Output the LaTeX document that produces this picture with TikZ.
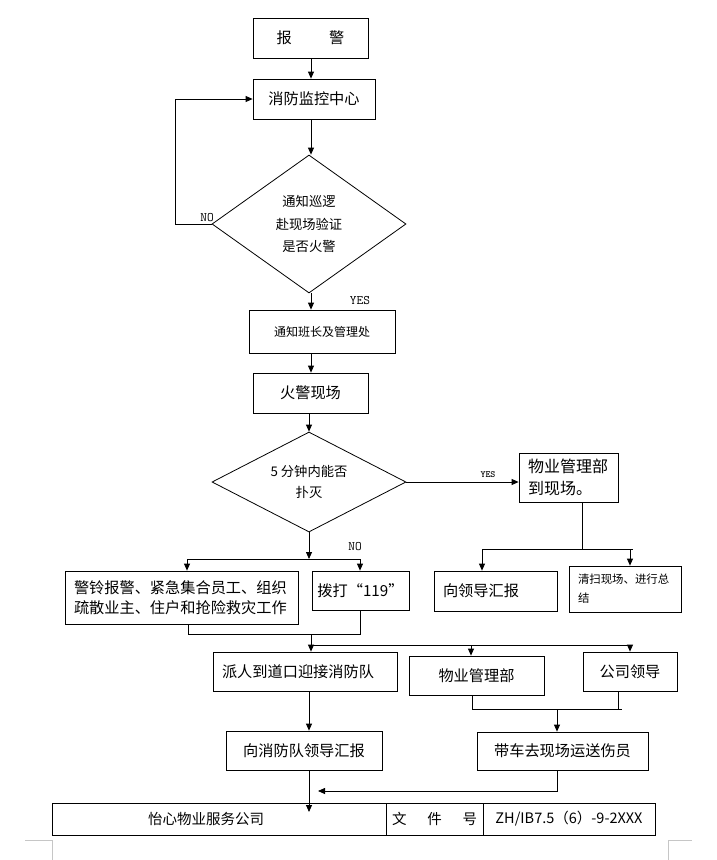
\documentclass[tikz,border=0pt]{standalone}
\usepackage{fontspec}
\setmainfont{Noto Sans CJK SC}
\usetikzlibrary{arrows.meta,shapes.geometric}
\begin{document}
\begin{tikzpicture}[x=1pt,y=-1pt,
  line width=0.8pt,
  box/.style={draw, rectangle, inner sep=0pt, align=center},
  lbox/.style={draw, rectangle, inner xsep=9pt, inner ysep=0pt, align=left},
  dia/.style={draw, diamond, inner sep=0pt, align=center},
  arr/.style={-{Triangle[length=7pt,width=6pt]}},
  fA/.style={font=\fontsize{15.2}{20}\selectfont},
  lab/.style={font=\ttfamily\fontsize{13}{13}\selectfont, inner sep=0pt},
  labs/.style={font=\ttfamily\bfseries\fontsize{9.5}{9.5}\selectfont, inner sep=0pt},
  tb/.style={draw, rectangle, inner sep=0pt, align=center, minimum height=32pt, font=\fontsize{14.5}{16}\selectfont},
  cornermark/.style={draw=gray!45, line width=0.6pt}
]
\useasboundingbox (0,0) rectangle (717,860);
\fill[white] (0,0) rectangle (717,860);

% axes
\coordinate (ax) at (311,0);
\coordinate (ax2) at (309,0);
\coordinate (fb) at (175,0);

% nodes
\node[box,fA,minimum width=115pt,minimum height=40pt] (n1) at (310.5,38) {报\hspace{2.45em}警};
\node[box,fA,minimum width=122pt,minimum height=40pt] (n2) at (314,99) {消防监控中心};
\node[dia,aspect=1.4,minimum width=194pt,minimum height=138pt,font=\fontsize{13.3}{22.5}\selectfont] (d1) at (309,224) {通知巡逻\\赴现场验证\\是否火警};
\node[box,font=\fontsize{12}{14}\selectfont,minimum width=146pt,minimum height=43pt] (n3) at (322,331.5) {通知班长及管理处};
\node[box,fA,minimum width=115pt,minimum height=40pt] (n4) at (310.5,393) {火警现场};
\node[dia,aspect=1.94,minimum width=194pt,minimum height=100pt,font=\fontsize{13.3}{21}\selectfont] (d2) at (309,482) {5 分钟内能否\\扑灭};
\node[lbox,font=\fontsize{16}{22}\selectfont,text width=81pt,minimum height=49pt] (n5) at (568.5,477.5) {物业管理部\\到现场。};
\node[lbox,fA,text width=105pt,minimum height=40pt] (n6) at (495.5,591) {向领导汇报};
\node[lbox,font=\fontsize{11.4}{19}\selectfont,text width=94pt,minimum height=46pt] (n7) at (625,589) {清扫现场、进行总\\结};
\node[lbox,fA,text width=215pt,minimum height=53pt] (n8) at (181.5,597.5) {警铃报警、紧急集合员工、组织\\疏散业主、住户和抢险救灾工作};
\node[box,fA,minimum width=97pt,minimum height=39pt] (n9) at (360.5,590.5) {拨打“119”};
\node[lbox,fA,text width=166pt,minimum height=39pt] (n10) at (305,671.5) {派人到道口迎接消防队};
\node[box,fA,minimum width=135pt,minimum height=39pt] (n11) at (476.5,675.5) {物业管理部};
\node[box,fA,minimum width=94pt,minimum height=39pt] (n12) at (630,671.5) {公司领导};
\node[box,fA,minimum width=156pt,minimum height=39pt] (n13) at (304,750.5) {向消防队领导汇报};
\node[box,fA,minimum width=171pt,minimum height=38pt] (n14) at (562.5,751) {带车去现场运送伤员};

% footer table
\node[tb,minimum width=334pt] (t1) at (219,819) {怡心物业服务公司\hspace*{26pt}};
\node[tb,minimum width=97pt] (t2) at (434.5,819) {\makebox[85pt]{文\hfill 件\hfill 号}};
\node[tb,minimum width=172pt] (t3) at (569,819) {ZH/IB7.5（6）-9-2XXX};

% labels
\node[lab] (no1) at (207,218) {NO};
\node[lab] (yes1) at (360,301) {YES};
\node[labs] (yes2) at (488,475) {YES};
\node[lab] (no2) at (355,547) {NO};

% connectors
\draw[arr] (n1.south -| ax) -- (n2.north -| ax);
\draw[arr] (n2.south -| ax) -- (d1.north -| ax);
\draw[arr] (d1.west) -- (d1.west -| fb) |- (n2.west);
\draw[arr] (d1.south -| ax) -- (n3.north -| ax);
\draw[arr] (n3.south -| ax) -- (n4.north -| ax);
\draw[arr] (n4.south -| ax2) -- (d2.north -| ax2);
\draw[arr] (d2.east) -- (d2.east -| n5.west);

% branch from n5
\coordinate (b5) at (582,549);
\coordinate (b5l) at (482,549);
\coordinate (b5r) at (630,549);
\coordinate (b5e) at (633,549);
\draw (n5.south -| b5) -- (b5);
\draw (b5l) -- (b5e);
\draw[arr] (b5l) -- (b5l |- n6.north);
\draw[arr] (b5r) -- (b5r |- n7.north);

% branch from d2 (NO)
\coordinate (j2) at (309,559);
\coordinate (j2l) at (187,559);
\coordinate (j2r) at (360,559);
\draw[arr] (d2.south) -- (j2);
\draw (j2l) -- (j2r);
\draw[arr] (j2l) -- (j2l |- n8.north);
\draw[arr] (j2r) -- (j2r |- n9.north);

% merge n8, n9 and spread
\coordinate (m1) at (188,634);
\coordinate (m2) at (360,634);
\coordinate (m3) at (311,634);
\coordinate (s1) at (311,645);
\coordinate (s2) at (471,645);
\coordinate (s3) at (630,645);
\draw (n8.south -| m1) -- (m1) -- (m2) -- (n9.south -| m2);
\draw[arr] (m3) -- (n10.north -| m3);
\draw (s1) -- (s3);
\draw[arr] (s2) -- (s2 |- n11.north);
\draw[arr] (s3) -- (s3 |- n12.north);

\draw[arr] (n10.south -| ax2) -- (n13.north -| ax2);

% merge n11, n12
\coordinate (k1) at (472,709);
\coordinate (k2) at (622,709);
\coordinate (k3) at (618,709);
\coordinate (k4) at (557,709);
\draw (n11.south -| k1) -- (k1) -- (k2);
\draw (n12.south -| k3) -- (k3);
\draw[arr] (k4) -- (k4 |- n14.north);

% to footer
\coordinate (tip1) at (309,812);
\draw[arr] (n13.south -| ax2) -- (tip1);
\coordinate (q1) at (557,791);
\coordinate (tip2) at (318,791);
\draw[arr] (n14.south -| q1) -- (q1) -- (tip2);

% page corner marks
\draw[cornermark] (25,840) -- (52,840) -- (52,860);
\draw[cornermark] (668,860) -- (668,840) -- (692,840);
\end{tikzpicture}
\end{document}
